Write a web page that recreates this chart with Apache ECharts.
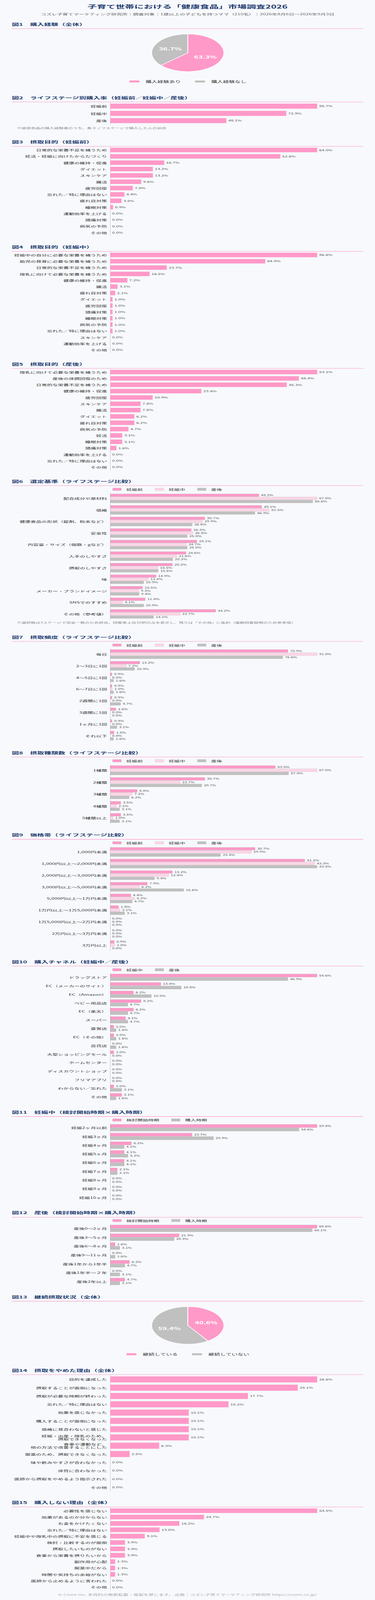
<!DOCTYPE html>
<html>
<head>
<meta charset="utf-8">
<script src="https://cdn.jsdelivr.net/npm/echarts@6/dist/echarts.min.js"></script>
<style>
html,body{margin:0;padding:0;background:#f7f9fc;overflow:hidden;}
#page{position:relative;width:960px;height:7880px;background:#f7f9fc;overflow:hidden;transform-origin:0 0;}
.sec{position:absolute;left:0;width:960px;}
</style>
</head>
<body>
<div id="page"></div>
<script>
// ===== DATA =====
const fig1Labels = ['購入経験あり', '購入経験なし'];
const fig1Values = [63.3, 36.7];

const fig2Categories = ['妊娠前', '妊娠中', '産後'];
const fig2Values = [85.7, 72.9, 48.1];

const fig3Categories = ['日常的な栄養不足を補うため', '妊活・妊娠に向けたからだづくり', '健康の維持・促進', 'ダイエット', 'スキンケア', '腸活', '疲労回復', '忘れた／特に理由はない', '疲れ目対策', '睡眠対策', '運動効率を上げる', '頭痛対策', '病気の予防', 'その他'];
const fig3Values = [64.0, 52.6, 16.7, 13.2, 13.2, 9.6, 7.0, 4.4, 3.5, 0.9, 0.0, 0.0, 0.0, 0.0];

const fig4Categories = ['妊娠中の自分に必要な栄養を補うため', '胎児の発育に必要な栄養を補うため', '日常的な栄養不足を補うため', '授乳に向けて必要な栄養を補うため', '健康の維持・促進', '腸活', '疲れ目対策', 'ダイエット', '疲労回復', '頭痛対策', '睡眠対策', '病気の予防', '忘れた／特に理由はない', 'スキンケア', '運動効率を上げる', 'その他'];
const fig4Values = [86.6, 64.9, 23.7, 16.5, 7.2, 3.1, 2.1, 1.0, 1.0, 1.0, 1.0, 1.0, 1.0, 0.0, 0.0, 0.0];

const fig5Categories = ['授乳に向けて必要な栄養を補うため', '産後の体調回復のため', '日常的な栄養不足を補うため', '健康の維持・促進', '疲労回復', 'スキンケア', '腸活', 'ダイエット', '疲れ目対策', '病気の予防', '妊活', '睡眠対策', '頭痛対策', '運動効率を上げる', '忘れた／特に理由はない', 'その他'];
const fig5Values = [53.1, 48.4, 45.3, 23.4, 10.9, 7.8, 7.8, 6.2, 6.2, 4.7, 3.1, 3.1, 1.6, 0.0, 0.0, 0.0];

const stageNames = ['妊娠前', '妊娠中', '産後'];

const fig6Categories = ['配合成分や原材料', '価格', '健康食品の形状（錠剤、粉末など）', '安全性', '内容量・サイズ（個数・gなど）', '入手のしやすさ', '摂取のしやすさ', '味', 'メーカー・ブランドイメージ', 'SNSでのすすめ', 'その他（参考値）'];
const fig6Pre = [48.2, 49.1, 30.7, 26.3, 28.1, 24.6, 20.2, 14.9, 10.5, 11.4, 34.2];
const fig6During = [67.0, 51.5, 29.9, 26.8, 24.7, 21.6, 15.5, 12.4, 9.3, 4.1, 22.7];
const fig6Post = [65.6, 46.9, 26.6, 25.0, 25.0, 20.3, 15.6, 10.9, 9.4, 10.9, 14.1];

const fig7Categories = ['毎日', '2〜3日に1回', '4〜5日に1回', '6〜7日に1回', '2週間に1回', '3週間に1回', '1ヶ月に1回', 'それ以下'];
const fig7Pre = [78.9, 13.2, 0.9, 0.9, 0.9, 2.6, 0.9, 1.8];
const fig7During = [91.8, 7.2, 0.0, 1.0, 0.0, 0.0, 0.0, 0.0];
const fig7Post = [76.6, 10.9, 1.6, 1.6, 4.7, 0.0, 3.1, 1.6];

const fig8Categories = ['1種類', '2種類', '3種類', '4種類', '5種類以上'];
const fig8Pre = [53.5, 30.7, 8.8, 3.5, 3.5];
const fig8During = [67.0, 22.7, 7.2, 2.1, 1.0];
const fig8Post = [57.8, 29.7, 6.2, 3.1, 3.1];

const fig9Categories = ['1,000円未満', '1,000円以上〜2,000円未満', '2,000円以上〜3,000円未満', '3,000円以上〜5,000円未満', '5,000円以上〜1万円未満', '1万円以上〜1万5,000円未満', '1万5,000円以上〜2万円未満', '2万円以上〜3万円未満', '3万円以上'];
const fig9Pre = [30.7, 41.2, 13.2, 7.9, 4.4, 1.8, 0.0, 0.0, 0.9];
const fig9During = [29.9, 43.3, 12.4, 6.2, 5.2, 2.1, 0.0, 0.0, 1.0];
const fig9Post = [23.4, 43.8, 9.4, 15.6, 4.7, 3.1, 0.0, 0.0, 0.0];

const fig10Names = ['妊娠中', '産後'];
const fig10Categories = ['ドラッグストア', 'EC（メーカーのサイト）', 'EC（Amazon）', 'ベビー用品店', 'EC（楽天）', 'スーパー', '直営店', 'EC（その他）', '百貨店', '大型ショッピングモール', 'ホームセンター', 'ディスカウントショップ', 'フリマアプリ', 'わからない／忘れた', 'その他'];
const fig10During = [54.6, 13.4, 6.2, 8.2, 6.2, 4.1, 1.0, 1.0, 0.0, 1.0, 0.0, 0.0, 0.0, 1.0, 3.1];
const fig10Post = [46.9, 18.8, 10.9, 4.7, 4.7, 4.7, 1.6, 1.6, 1.6, 0.0, 0.0, 0.0, 0.0, 3.1, 1.6];

const timingNames = ['検討開始時期', '購入時期'];

const fig11Categories = ['妊娠2ヶ月以前', '妊娠3ヶ月', '妊娠4ヶ月', '妊娠5ヶ月', '妊娠6ヶ月', '妊娠7ヶ月', '妊娠8ヶ月', '妊娠9ヶ月', '妊娠10ヶ月'];
const fig11Consider = [59.8, 23.7, 6.2, 4.1, 4.1, 2.1, 0.0, 0.0, 0.0];
const fig11Purchase = [54.6, 29.9, 4.1, 5.2, 4.1, 2.1, 0.0, 0.0, 0.0];

const fig12Categories = ['産後0〜2ヶ月', '産後3〜5ヶ月', '産後6〜8ヶ月', '産後9〜11ヶ月', '産後1年から1年半', '産後1年半〜２年', '産後2年以上'];
const fig12Consider = [65.6, 21.9, 1.6, 0.0, 6.2, 0.0, 4.7];
const fig12Purchase = [64.1, 20.3, 3.1, 1.6, 4.7, 3.1, 3.1];

const fig13Labels = ['継続している', '継続していない'];
const fig13Values = [40.6, 59.4];

const fig14Categories = ['目的を達成した', '摂取することが面倒になった', '摂取が必要な時期が終わった', '忘れた／特に理由はない', '効果を感じなかった', '購入することが面倒になった', '価格に見合わないと感じた', '妊娠・出産・授乳のため、\n摂取できなくなった', '食事や運動など、\n他の方法で改善することにした', '服薬のため、摂取できなくなった', '味や飲みやすさが合わなかった', '体質に合わなかった', '医師から摂取をやめるよう指示された', 'その他'];
const fig14Values = [26.6, 24.1, 17.7, 15.2, 10.1, 10.1, 10.1, 10.1, 6.3, 2.5, 0.0, 0.0, 0.0, 0.0];

const fig15Categories = ['必要性を感じない', '効果があるのか分からない', 'お金をかけたくない', '忘れた／特に理由はない', '妊娠中や授乳中の摂取に不安を感じる', '検討・比較するのが面倒', '摂取したいものがない', '食事から栄養を摂りたいから', '副作用が心配', '服薬中だから', '時間や気持ちの余裕がない', '医師から止めるように言われた', 'その他'];
const fig15Values = [54.5, 24.7, 18.2, 13.0, 9.1, 3.9, 3.9, 3.9, 1.3, 1.3, 1.3, 0.0, 0.0];

// ===== STYLE =====
const PAGE_H = 7880;
const PINK = '#ff99c8', LIGHT = '#ffd6e7', GRAY = '#c0c0c0';
const NAVY = '#1d3a6e';
const FONT = '"Noto Sans CJK JP", "Noto Sans JP", "Noto Sans", sans-serif';
const BORDER = 'rgba(0,0,0,0.16)';
const fmt = p => Number(p.value).toFixed(1) + '%';

// If the window is shorter than the page, squeeze the page vertically so that everything stays in view.
(function fitPage() {
  const vh = window.innerHeight || PAGE_H;
  const s = Math.min(1, vh / PAGE_H);
  if (s < 1) document.getElementById('page').style.transform = 'scaleY(' + s + ')';
})();

function section(y0, y1, build) {
  const div = document.createElement('div');
  div.className = 'sec';
  div.style.top = y0 + 'px';
  div.style.height = (y1 - y0) + 'px';
  document.getElementById('page').appendChild(div);
  const ctx = {
    off: y0,
    option: { backgroundColor: '#f7f9fc', animation: false, textStyle: { fontFamily: FONT },
              graphic: [], legend: [], grid: [], xAxis: [], yAxis: [], series: [] }
  };
  build(ctx);
  const chart = echarts.init(div, null, { renderer: 'svg', width: 960, height: y1 - y0 });
  chart.setOption(ctx.option);
}

function addText(ctx, text, x, y, font, fill, align) {
  ctx.option.graphic.push({
    type: 'text', x: x, y: y - ctx.off, silent: true,
    style: { text: text, font: font, fill: fill, align: align || 'left', verticalAlign: 'middle',
             textAlign: align || 'left', textVerticalAlign: 'middle' }
  });
}
function addHeader(ctx, text, y, lineY) {
  addText(ctx, text, 30.5, y, 'bold 18px ' + FONT, NAVY, 'left');
  ctx.option.graphic.push({ type: 'rect', silent: true, shape: { x: 30, y: lineY - 1 - ctx.off, width: 900, height: 2 }, style: { fill: PINK } });
}
function addNote(ctx, text, y) {
  addText(ctx, text, 43, y, '12px ' + FONT, '#8a8a8a', 'left');
}

function addBars(ctx, cfg) {
  const o = ctx.option;
  const gi = o.grid.length;
  o.grid.push({ left: 282, width: 530, top: cfg.top - ctx.off, height: cfg.bottom - cfg.top, containLabel: false });
  o.xAxis.push({ type: 'value', gridIndex: gi, min: 0, max: 'dataMax', show: false });
  o.yAxis.push({
    type: 'category', gridIndex: gi, data: cfg.cats, inverse: true,
    axisLine: { show: true, lineStyle: { color: '#b5b5b5', width: 1 } },
    axisTick: { show: false }, splitLine: { show: false },
    axisLabel: { fontSize: 14, color: '#333', margin: 8, lineHeight: cfg.lineHeight || 18, fontFamily: FONT }
  });
  cfg.series.forEach(s => {
    o.series.push({
      type: 'bar', name: s.name, xAxisIndex: gi, yAxisIndex: gi, silent: true,
      data: s.data.map(v => v === 0 ? { value: 0, itemStyle: { borderWidth: 0 } } : v),
      barCategoryGap: cfg.catGap, barGap: cfg.barGap,
      itemStyle: { color: s.color, borderColor: s.border || 'transparent', borderWidth: s.border ? 1 : 0 },
      label: { show: true, position: 'right', distance: 5, fontSize: cfg.labelSize, color: '#555', formatter: fmt, fontFamily: FONT }
    });
  });
  if (cfg.legendY) {
    o.legend.push({
      left: 288, top: cfg.legendY - 7 - ctx.off, padding: 0, orient: 'horizontal',
      itemWidth: 22, itemHeight: 12, itemGap: 31, icon: 'rect', selectedMode: false,
      textStyle: { fontSize: 14, color: '#333', padding: [0, 0, 0, 8], fontFamily: FONT },
      data: cfg.series.map(s => ({ name: s.name, icon: 'rect', itemStyle: { color: s.color, borderColor: s.border || 'transparent', borderWidth: s.border ? 1 : 0 } }))
    });
  }
}

function addPie(ctx, labels, values, colors, cy, legendY) {
  const o = ctx.option;
  o.series.push({
    type: 'pie', center: [480.7, cy - ctx.off], radius: 92.5, startAngle: 90, clockwise: true, silent: true,
    itemStyle: { borderColor: '#fff', borderWidth: 2 },
    label: { show: true, position: 'inside', color: '#fff', fontSize: 19, fontWeight: 'bold', formatter: fmt, fontFamily: FONT },
    labelLine: { show: false },
    data: labels.map((n, i) => ({ name: n, value: values[i], itemStyle: { color: colors[i] } }))
  });
  o.legend.push({
    left: 'center', top: legendY - 7 - ctx.off, padding: 0, itemWidth: 28, itemHeight: 12, itemGap: 34, selectedMode: false,
    textStyle: { fontSize: 15, color: '#333', padding: [0, 0, 0, 10], fontFamily: FONT },
    data: labels.map((n, i) => ({ name: n, icon: 'rect', itemStyle: { color: colors[i], borderColor: '#fff', borderWidth: 2 } }))
  });
}

const stageColors = [PINK, LIGHT, GRAY];
function stageSeries(a, b, c) {
  return [a, b, c].map((d, i) => ({ name: stageNames[i], data: d, color: stageColors[i], border: BORDER }));
}
function pairSeries(names, a, b) {
  return [{ name: names[0], data: a, color: PINK, border: BORDER }, { name: names[1], data: b, color: GRAY, border: BORDER }];
}

// ===== SECTIONS (page coordinates) =====
section(0, 440, ctx => {
  addText(ctx, '子育て世帯における「健康食品」市場調査2026', 480, 31.6, 'bold 24px ' + FONT, NAVY, 'center');
  addText(ctx, 'コズレ子育てマーケティング研究所｜調査対象：1歳以上の子どもを持つママ（210名）｜2026年8月6日〜2026年9月3日', 480, 68.6, '14px ' + FONT, '#666', 'center');
  addHeader(ctx, '図1　購入経験（全体）', 119, 141);
  addPie(ctx, fig1Labels, fig1Values, [PINK, GRAY], 260, 401);
});
section(440, 658, ctx => {
  addHeader(ctx, '図2　ライフステージ別購入率（妊娠前／妊娠中／産後）', 480, 502);
  addBars(ctx, { cats: fig2Categories, top: 505, bottom: 612, catGap: '30%', labelSize: 12,
    series: [{ name: 'fig2', data: fig2Values, color: PINK }] });
  addNote(ctx, '※健康食品の購入経験者のうち、各ライフステージで購入した人の割合', 630);
});
section(658, 1175, ctx => {
  addHeader(ctx, '図3　摂取目的（妊娠前）', 698, 721);
  addBars(ctx, { cats: fig3Categories, top: 723, bottom: 1161, catGap: '29%', labelSize: 12,
    series: [{ name: 'fig3', data: fig3Values, color: PINK }] });
});
section(1175, 1753, ctx => {
  addHeader(ctx, '図4　摂取目的（妊娠中）', 1215, 1238);
  addBars(ctx, { cats: fig4Categories, top: 1240, bottom: 1739, catGap: '29%', labelSize: 12,
    series: [{ name: 'fig4', data: fig4Values, color: PINK }] });
});
section(1753, 2330, ctx => {
  addHeader(ctx, '図5　摂取目的（産後）', 1793, 1814);
  addBars(ctx, { cats: fig5Categories, top: 1817, bottom: 2316, catGap: '29%', labelSize: 12,
    series: [{ name: 'fig5', data: fig5Values, color: PINK }] });
});
section(2330, 3097, ctx => {
  addHeader(ctx, '図6　選定基準（ライフステージ比較）', 2370, 2392);
  addBars(ctx, { cats: fig6Categories, top: 2426, bottom: 3052, catGap: '21%', barGap: '10%', labelSize: 11, legendY: 2410,
    series: stageSeries(fig6Pre, fig6During, fig6Post) });
  addNote(ctx, '※選択肢は3ステージで完全一致のため統合。回答率上位10択のみを表示し、残りは「その他」に集約（複数回答設問のため参考値）', 3066);
});
section(3097, 3666, ctx => {
  addHeader(ctx, '図7　摂取頻度（ライフステージ比較）', 3137.5, 3159);
  addBars(ctx, { cats: fig7Categories, top: 3193, bottom: 3652, catGap: '21%', barGap: '10%', labelSize: 11, legendY: 3177,
    series: stageSeries(fig7Pre, fig7During, fig7Post) });
});
section(3666, 4071, ctx => {
  addHeader(ctx, '図8　摂取種類数（ライフステージ比較）', 3706.6, 3728.5);
  addBars(ctx, { cats: fig8Categories, top: 3764, bottom: 4058, catGap: '21%', barGap: '10%', labelSize: 11, legendY: 3747,
    series: stageSeries(fig8Pre, fig8During, fig8Post) });
});
section(4071, 4696, ctx => {
  addHeader(ctx, '図9　価格帯（ライフステージ比較）', 4111, 4133.6);
  addBars(ctx, { cats: fig9Categories, top: 4167, bottom: 4683, catGap: '21%', barGap: '10%', labelSize: 11, legendY: 4151,
    series: stageSeries(fig9Pre, fig9During, fig9Post) });
});
section(4696, 5436, ctx => {
  addHeader(ctx, '図10　購入チャネル（妊娠中／産後）', 4736, 4758.3);
  addBars(ctx, { cats: fig10Categories, top: 4792, bottom: 5422, catGap: '21%', barGap: '6%', labelSize: 11, legendY: 4776,
    series: pairSeries(fig10Names, fig10During, fig10Post) });
});
section(5436, 5932, ctx => {
  addHeader(ctx, '図11　妊娠中（検討開始時期×購入時期）', 5476, 5499);
  addBars(ctx, { cats: fig11Categories, top: 5532.5, bottom: 5919, catGap: '21%', barGap: '6%', labelSize: 11, legendY: 5516,
    series: pairSeries(timingNames, fig11Consider, fig11Purchase) });
});
section(5932, 6346, ctx => {
  addHeader(ctx, '図12　産後（検討開始時期×購入時期）', 5972, 5995);
  addBars(ctx, { cats: fig12Categories, top: 6028, bottom: 6333, catGap: '21%', barGap: '6%', labelSize: 11, legendY: 6011,
    series: pairSeries(timingNames, fig12Consider, fig12Purchase) });
});
section(6346, 6707, ctx => {
  addHeader(ctx, '図13　継続摂取状況（全体）', 6386, 6408.5);
  addPie(ctx, fig13Labels, fig13Values, [PINK, GRAY], 6527.5, 6669);
});
section(6707, 7359, ctx => {
  addHeader(ctx, '図14　摂取をやめた理由（全体）', 6747.4, 6770);
  addBars(ctx, { cats: fig14Categories, top: 6773, bottom: 7345, catGap: '27%', labelSize: 12, lineHeight: 15,
    series: [{ name: 'fig14', data: fig14Values, color: PINK }] });
});
section(7359, 7880, ctx => {
  addHeader(ctx, '図15　購入しない理由（全体）', 7399, 7421.5);
  addBars(ctx, { cats: fig15Categories, top: 7424.5, bottom: 7832, catGap: '27%', labelSize: 12,
    series: [{ name: 'fig15', data: fig15Values, color: PINK }] });
  addText(ctx, '© Cozre Inc. 本資料の無断転載・複製を禁じます。 出典：コズレ子育てマーケティング研究所 https://cozre.co.jp/', 480, 7853, '13px ' + FONT, '#aaa', 'center');
});
</script>
</body>
</html>
